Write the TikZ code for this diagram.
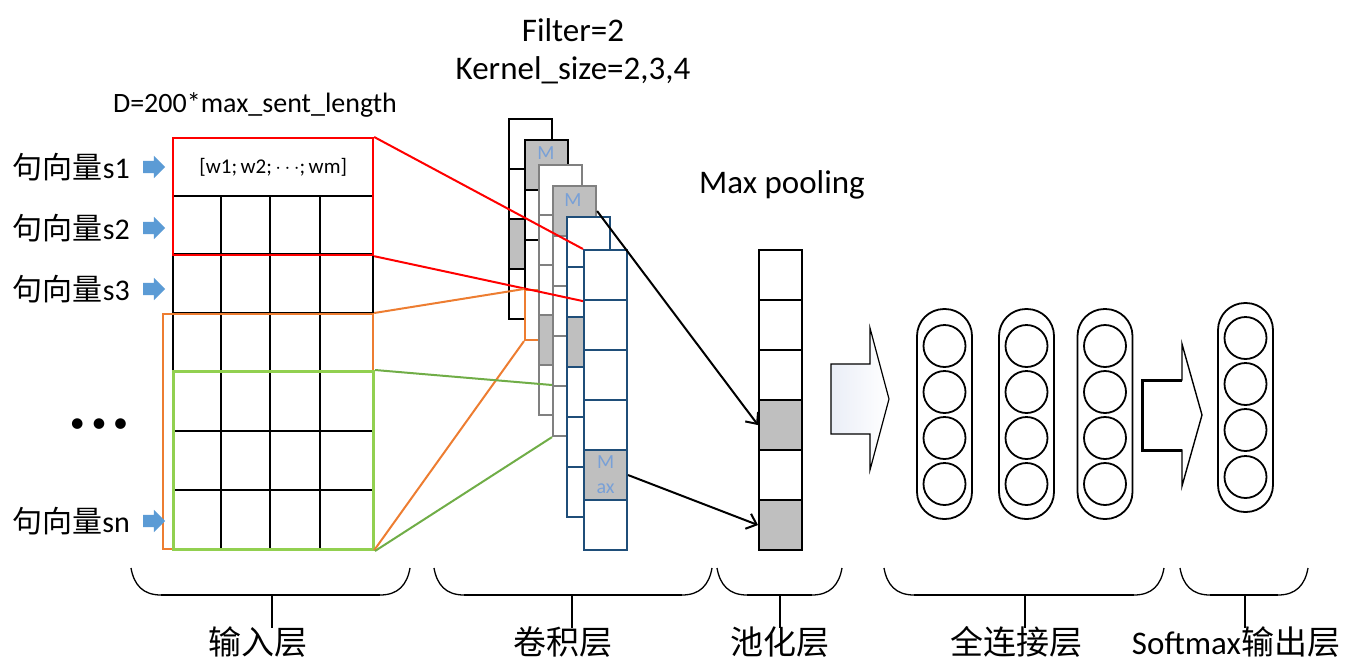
\documentclass[tikz,border=0pt]{standalone}
\usepackage{fontspec}
\setmainfont{Carlito}
\newfontfamily\cjk{Noto Sans CJK SC}
\usepackage{xcolor}
\usepackage{tikz}
\usetikzlibrary{shapes,arrows,positioning,calc,arrows.meta}

\definecolor{mapblue}{RGB}{31,78,121}
\definecolor{mapgray}{RGB}{128,128,128}
\definecolor{cellgray}{RGB}{191,191,191}
\definecolor{winorange}{RGB}{237,125,49}
\definecolor{wingreen}{RGB}{146,208,80}
\definecolor{linegreen}{RGB}{112,173,71}
\definecolor{mtext}{RGB}{120,160,215}
\definecolor{arrowblue}{RGB}{91,155,213}
\definecolor{arrowshade}{RGB}{234,238,247}

\begin{document}
\begin{tikzpicture}[x=1pt,y=-1pt,
    cell/.style={draw, fill=white, line width=2.1, minimum width=43, minimum height=50, anchor=north west, inner sep=0},
    win/.style={draw, line width=2.2, anchor=north west, inner sep=0},
    neuron/.style={draw, circle, line width=1.8, minimum size=42, inner sep=0},
    layer/.style={draw, line width=1.8, minimum width=55, rounded corners=27, inner sep=0},
    sent/.style={font=\fontsize{30}{32}\selectfont, anchor=east, inner sep=0},
    lab/.style={font=\fontsize{33}{36}\selectfont, inner sep=0},
    tag/.style={text=mtext, font=\fontsize{20}{25}\selectfont, inner sep=0, align=center}]
    \useasboundingbox (0,0) rectangle (1355,667);

    \node[font=\fontsize{33}{36}\selectfont] (filt) at (573,30) {Filter=2};
    \node[font=\fontsize{33}{36}\selectfont] (ksize) at (573,70) {Kernel\_size=2,3,4};
    \node[font=\fontsize{28}{30}\selectfont] (dim) at (255,105) {D=200*max\_sent\_length};
    \node[font=\fontsize{33}{36}\selectfont] (mp) at (782,185) {Max pooling};

    \node[draw=mapgray, line width=2.4, minimum width=200, minimum height=58, anchor=north west, inner sep=0, font=\fontsize{21}{24}\selectfont] (row1) at (172,137) {[w1;\,w2;\,$\cdots$;\,wm]};
    \node[draw, line width=2.2, minimum width=200, minimum height=353, anchor=north west, inner sep=0] (grid) at (172,195) {};
    \foreach \x in {221,270,320} \draw[line width=2] (\x,195) -- (\x,548);
    \foreach \y in {254,313,371,431,490} \draw[line width=2.4] (172,\y) -- (372,\y);
    \node[win, draw=winorange, minimum width=210, minimum height=235] (w4) at (162,313) {};
    \node[win, draw=wingreen, line width=3, minimum width=200, minimum height=178] (w3) at (172,370) {};
    \node[win, draw=red, minimum width=200, minimum height=117] (w2) at (172,137) {};

    \foreach \s/\y in {s1/167,s2/228,s3/289,sn/521} {
        \node[sent] (sv-\s) at (130,\y) {{\cjk 句向量}\s};
        \node[single arrow, fill=arrowblue, inner xsep=0, inner ysep=6, single arrow head extend=5, minimum height=22] (sa-\s) at (151,\y) {};
    }
    \node[font=\fontsize{30}{30}\selectfont] (dots) at (99,426) {• • •};

    \foreach \c/\x/\y/\n/\col/\g in {1/508/118/4/black/3, 2/524/139/4/black/1, 3/538/164/5/mapgray/4, 4/552/185/5/mapgray/1, 5/566/216/6/mapblue/3, 6/583/249/6/mapblue/5}
        \foreach \i in {1,...,\n} {
            \ifnum\i=\g \def\fc{cellgray}\else\def\fc{white}\fi
            \ifnum\c\i=24 \def\dc{winorange}\else\def\dc{\col}\fi
            \node[cell, draw=\dc, fill=\fc] (m\c-\i) at (\x,{\y+50*(\i-1)}) {};
        }
    \node[tag] (tag2) at (546,153) {M};
    \node[tag] (tag4) at (573,200) {M};
    \node[tag] (tag6) at (m6-5) {M\\ax};

    \foreach \i/\fc in {1/white,2/white,3/white,4/cellgray,5/white,6/cellgray}
        \node[cell, fill=\fc] (p\i) at (758,{249+50*(\i-1)}) {};

    \draw[red, line width=2] (w2.north east) -- (m6-1.north west);
    \draw[red, line width=2] (w2.south east) -- (m6-1.south west);
    \draw[winorange, line width=2] (w4.north east) -- (m2-4.north west);
    \draw[winorange, line width=2] (w4.south east) -- (m2-4.south west);
    \draw[linegreen, line width=2] (w3.north east) -- (m4-5.north west);
    \draw[linegreen, line width=2] (w3.south east) -- (m4-5.south west);
    \draw[-{Straight Barb[length=9,width=16]}, line width=2] (m4-1.east) -- (p4.west);
    \draw[-{Straight Barb[length=9,width=16]}, line width=2] (m6-5.east) -- (p6.west);

    \draw[line width=1.2, left color=arrowshade, right color=white] (831,364) -- (870,364) -- (870,328) -- (889,399) -- (870,470) -- (870,434) -- (831,434) -- cycle;

    \foreach \c/\x in {1/944.5,2/1026.5,3/1105} {
        \node[layer, minimum height=210] (fc\c) at (\x,414) {};
        \foreach \k/\y in {1/346,2/392,3/438,4/484}
            \node[neuron] (fc\c-\k) at (\x,\y) {};
    }

    \draw[line width=1.4, fill=white] (1142,380) -- (1182,380) -- (1182,344) -- (1202,415) -- (1182,486) -- (1182,450) -- (1142,450) -- cycle;
    \draw[line width=3] (1182,380) -- (1142,380) -- (1142,450) -- (1182,450);

    \node[layer, minimum height=209] (out) at (1245.5,407.5) {};
    \foreach \k/\y in {1/338,2/384,3/430,4/477}
        \node[neuron] (out-\k) at (1245.5,\y) {};

    \foreach \a/\b/\m/\lx/\t/\n in {131/410/272/258/{\cjk 输入层}/in, 434/712/572/563/{\cjk 卷积层}/conv, 717/842/780/780/{\cjk 池化层}/pool, 884/1164/1025/1016/{\cjk 全连接层}/fc, 1180/1308/1245/1236/{Softmax{\cjk 输出层}}/out} {
        \draw[line width=1.3] (\a,568) .. controls (\a+3,585) and (\a+12,595) .. (\a+30,595);
        \draw[line width=1.3] (\b,568) .. controls (\b-3,585) and (\b-12,595) .. (\b-30,595);
        \draw[line width=2.6] (\a+30,595) -- (\b-30,595);
        \draw[line width=2] (\m,595) -- (\m,628);
        \node[lab] (lab-\n) at (\lx,642) {\t};
    }
\end{tikzpicture}
\end{document}
